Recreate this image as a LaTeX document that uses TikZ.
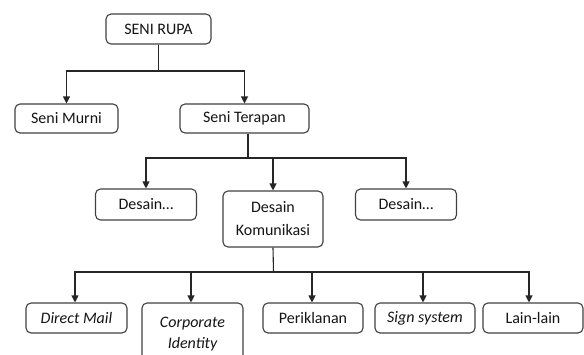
\documentclass[tikz,border=0pt]{standalone}
\usepackage{fontspec}
\setmainfont{Carlito}
\usetikzlibrary{arrows.meta}
\definecolor{boxgray}{HTML}{404040}
\definecolor{txt}{HTML}{141414}
\begin{document}
\begin{tikzpicture}[x=1pt,y=-1pt,
  box/.style={draw=boxgray,line width=1.1pt,rounded corners=5pt,inner sep=0pt,
    font=\fontsize{16}{23}\selectfont,text=txt,align=center},
  ibox/.style={box,font=\fontsize{16}{21}\selectfont\itshape},
  conn/.style={line width=1.1pt,draw=black!85},
  arr/.style={conn,-{Triangle[length=7pt,width=7pt]}}]
\useasboundingbox (0,0) rectangle (584,354);
\clip (0,0) rectangle (584,354);
% level 0
\node[box,minimum width=105pt,minimum height=30pt] (rupa) at (158.5,29) {SENI RUPA};
% level 1
\node[box,minimum width=103pt,minimum height=29pt] (murni) at (66.5,118.5) {Seni Murni};
\node[box,minimum width=129pt,minimum height=29pt] (terapan) at (244.5,118.5) {Seni Terapan};
% level 2
\node[box,minimum width=101pt,minimum height=31pt] (d1) at (146,204.5) {Desain…};
\node[box,minimum width=100pt,minimum height=56pt] (kom) at (273,219) {Desain\\Komunikasi};
\node[box,minimum width=101pt,minimum height=31pt] (d3) at (406,204.5) {Desain…};
% level 3
\node[ibox,minimum width=101pt,minimum height=30pt] (mail) at (76.5,318) {Direct Mail};
\node[ibox,minimum width=101pt,minimum height=62pt] (corp) at (192.5,334) {Corporate\\Identity};
\node[box,minimum width=100pt,minimum height=30pt] (perik) at (313,318) {Periklanan};
\node[ibox,minimum width=100pt,minimum height=30pt] (sign) at (425,318) {Sign system};
\node[box,minimum width=100pt,minimum height=30pt] (lain) at (533,318) {Lain-lain};
% connectors
\coordinate (j1) at (158.5,71);
\draw[conn] (rupa.south) -- (j1);
\draw[arr] (j1) -| (murni.north);
\draw[arr] (j1) -| (terapan.north);
\coordinate (j2) at (248,158);
\draw[conn] ([xshift=3.5pt]terapan.south) -- (j2);
\draw[arr] (j2) -| (d1.north);
\draw[arr] (j2) -| (kom.north);
\draw[arr] (j2) -| (d3.north);
\coordinate (j3) at (273.5,272);
\draw[conn] (kom.south) -- (j3);
\draw[arr] (j3) -| ([xshift=-1.5pt]mail.north);
\draw[arr] (j3) -| ([xshift=-1.5pt]corp.north);
\draw[arr] (j3) -| ([xshift=-1pt]perik.north);
\draw[arr] (j3) -| ([xshift=-2pt]sign.north);
\draw[arr] (j3) -| ([xshift=-4pt]lain.north);
\end{tikzpicture}
\end{document}
